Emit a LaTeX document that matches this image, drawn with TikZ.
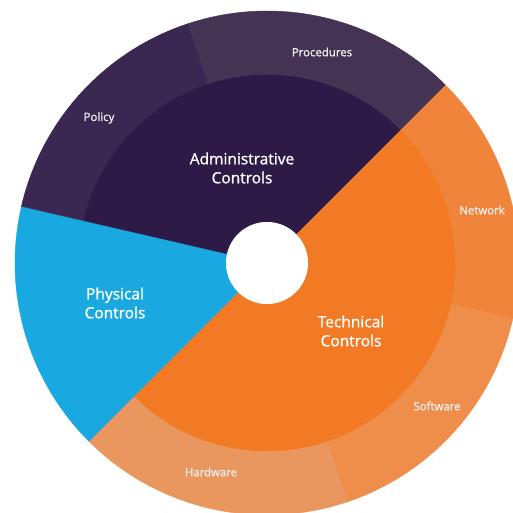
\documentclass[tikz,border=0pt]{standalone}
\usepackage{fontspec}
\setmainfont{Open Sans}
\newfontfamily\bigfont{Open Sans}[FakeBold=1.2]
\newfontfamily\smallfont{Open Sans}[FakeBold=1.4]
\definecolor{admin}{HTML}{2D1A47}
\definecolor{policy}{HTML}{3A2852}
\definecolor{proced}{HTML}{443352}
\definecolor{phys}{HTML}{19A8DF}
\definecolor{tech}{HTML}{F27A25}
\definecolor{netw}{HTML}{F0843A}
\definecolor{softw}{HTML}{EF8E4A}
\definecolor{hardw}{HTML}{E9975F}
\begin{document}
\begin{tikzpicture}[x=1pt,y=1pt,
  big/.style={text=white,font=\bigfont\fontsize{15.5}{19}\selectfont,align=center},
  small/.style={text=white!93!black,font=\smallfont\fontsize{11.4}{13}\selectfont}]
\useasboundingbox (0,0) rectangle (513,513);
\begin{scope}[shift={(267,250)}]
% sector: colour, start angle, end angle (ccw), inner radius, outer radius
\newcommand{\sector}[5]{%
  \filldraw[#1,line width=0.4pt,line join=round] (#2:#4pt) -- (#2:#5pt) arc[start angle=#2,end angle=#3,radius=#5pt]
    -- (#3:#4pt) arc[start angle=#3,end angle=#2,radius=#4pt] -- cycle;}
% outer ring
\sector{netw}{-12.7}{45}{187}{252}
\sector{softw}{-71.5}{-12.7}{187}{252}
\sector{hardw}{-135}{-71.5}{187}{252}
\sector{phys}{167}{225}{187}{252}
\sector{policy}{108.2}{167}{187}{252}
\sector{proced}{45}{108.2}{187}{252}
% inner ring
\sector{tech}{-135}{45}{41}{188}
\sector{phys}{167}{225}{41}{188}
\sector{admin}{45}{167}{41}{188}
\fill[white] (0,0) circle[radius=41pt];
\end{scope}
\node[big] (admin) at (242,345) {Administrative\\Controls};
\node[big] (phys) at (115,210) {Physical\\Controls};
\node[big] (tech) at (351,182) {Technical\\Controls};
\node[small] (proc) at (322,461) {Procedures};
\node[small] (pol) at (99,395) {Policy};
\node[small] (net) at (482,303) {Network};
\node[small] (soft) at (437,107) {Software};
\node[small] (hard) at (211,41) {Hardware};
\end{tikzpicture}
\end{document}
